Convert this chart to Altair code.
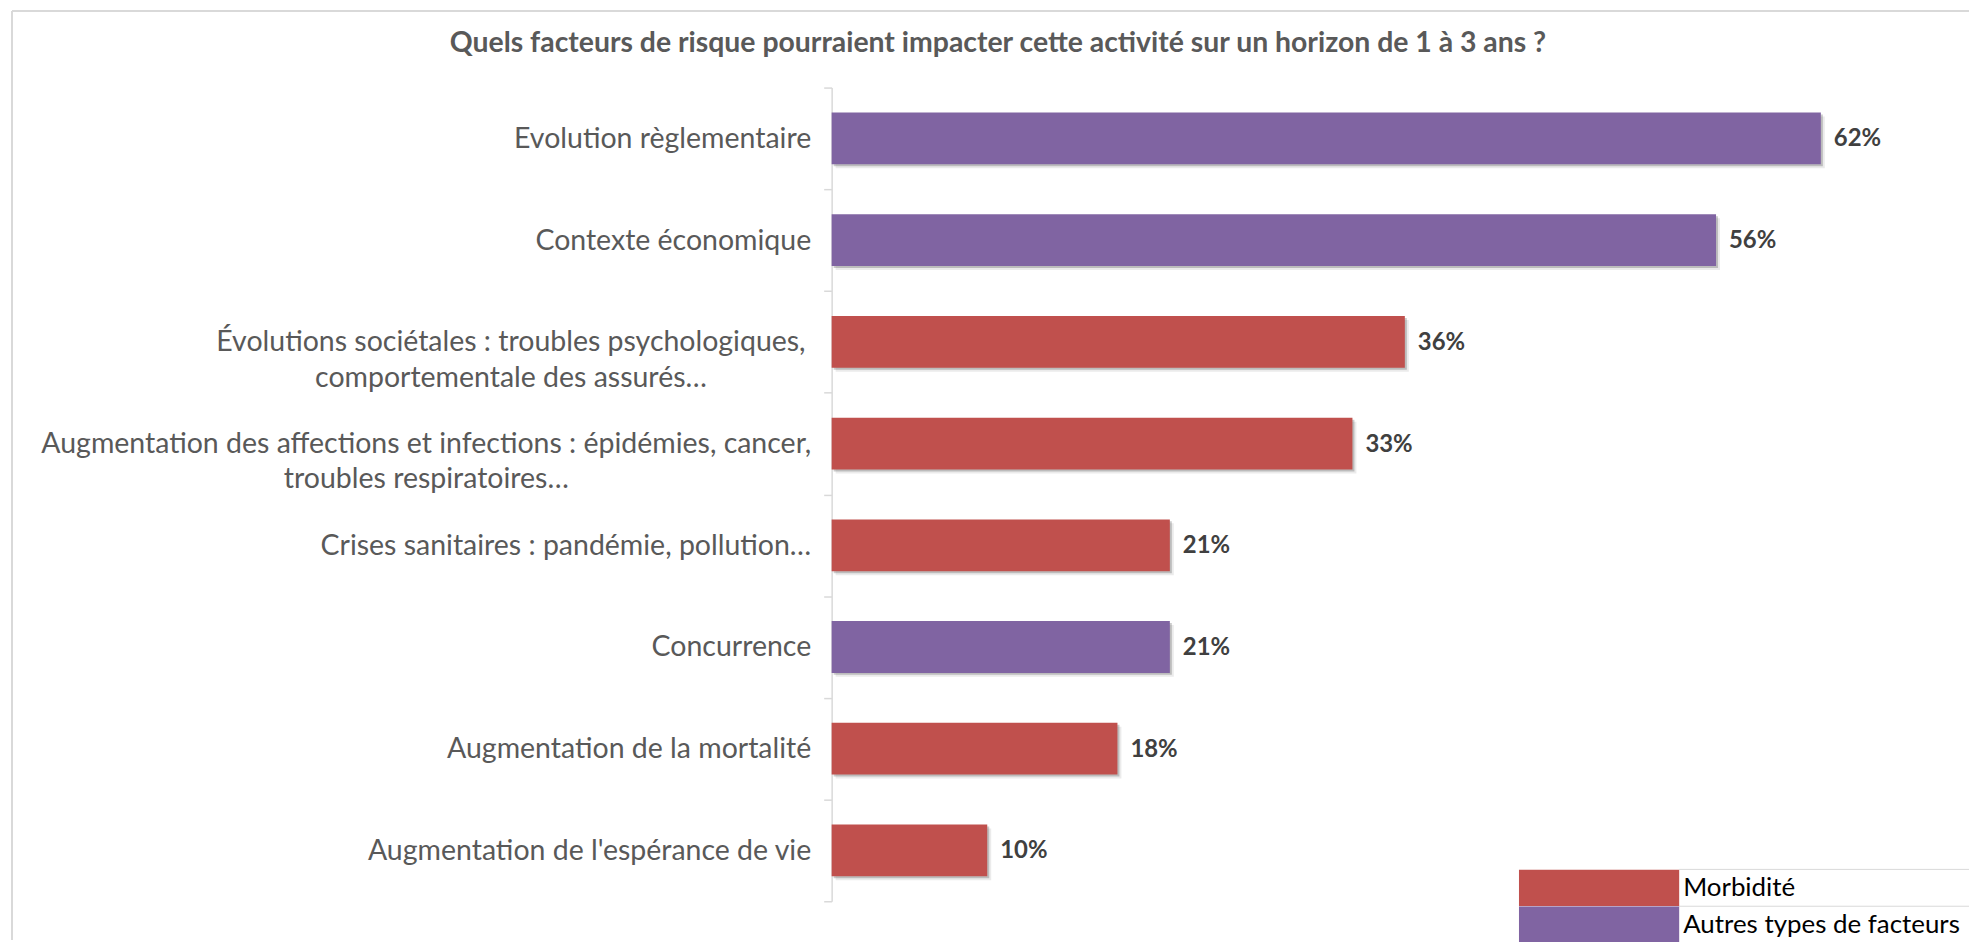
import altair as alt
import pandas as pd

categories = [
    "Evolution règlementaire",
    "Contexte économique",
    "Évolutions sociétales :  troubles psychologiques,\ncomportementale des assurés…",
    "Augmentation des affections et infections : épidémies, cancer,\ntroubles respiratoires…",
    "Crises sanitaires : pandémie, pollution…",
    "Concurrence",
    "Augmentation de la mortalité",
    "Augmentation de l'espérance de vie",
]
values = [62.3, 55.7, 36.1, 32.8, 21.3, 21.3, 18.0, 9.8]
groups = [
    "Autres types de facteurs",
    "Autres types de facteurs",
    "Morbidité",
    "Morbidité",
    "Morbidité",
    "Autres types de facteurs",
    "Morbidité",
    "Morbidité",
]
value_labels = ["62%", "56%", "36%", "33%", "21%", "21%", "18%", "10%"]
group_order = ["Morbidité", "Autres types de facteurs"]
group_colors = ["#C0504D", "#8064A2"]
title_text = "Quels facteurs de risque pourraient impacter cette activité sur un horizon de 1 à 3 ans ?"

df = pd.DataFrame({"cat": categories, "val": values, "grp": groups, "lbl": value_labels})

FONT = "Lato"
LABEL_SIZE = 28.6
LABEL_COLOR = "#595959"

x = alt.X("val:Q", scale=alt.Scale(domain=[0, 70], nice=False, zero=True), axis=None)
y = alt.Y(
    "cat:N",
    sort=None,
    title=None,
    scale=alt.Scale(paddingInner=0, paddingOuter=0),
    axis=alt.Axis(
        # single-line labels are drawn by the axis; the two wrapped (centred) ones by text layers
        labelExpr="indexof(datum.label, '\\n') >= 0 ? '' : datum.label",
        tickBand="extent",
        domainColor="#d9d9d9",
        domainWidth=1.5,
        tickColor="#d9d9d9",
        tickWidth=1.5,
        tickSize=8,
        labelFont=FONT,
        labelFontSize=LABEL_SIZE,
        labelColor=LABEL_COLOR,
        labelLimit=1000,
        labelOverlap=False,
        labelBound=False,
        labelBaseline="middle",
        labelAlign="right",
        labelPadding=13,
        grid=False,
    ),
)

base = alt.Chart(df)

shadow_far = base.mark_bar(
    size=52, color="#000000", opacity=0.08, xOffset=4, x2Offset=4, yOffset=4, y2Offset=4
).encode(x=x, y=y)
shadow_near = base.mark_bar(
    size=52, color="#000000", opacity=0.2, xOffset=2, x2Offset=2, yOffset=2, y2Offset=2
).encode(x=x, y=y)

bars = base.mark_bar(size=52).encode(
    x=x,
    y=y,
    color=alt.Color(
        "grp:N",
        scale=alt.Scale(domain=group_order, range=group_colors),
        legend=alt.Legend(
            title=None,
            orient="none",
            legendX=690,
            legendY=785,
            padding=0,
            rowPadding=0,
            offset=0,
            clipHeight=37,
            symbolType="M-1,-0.23H1V0.23H-1Z",
            symbolSize=25921,
            symbolStrokeWidth=0,
            symbolOpacity=1,
            labelFont=FONT,
            labelFontSize=26,
            labelColor="#000000",
            labelOffset=4,
            labelLimit=1000,
        ),
    ),
)

text = base.mark_text(
    align="left",
    baseline="middle",
    dx=13,
    dy=1,
    font=FONT,
    fontSize=24,
    fontWeight="bold",
    color="#404040",
).encode(x=x, y=y, text="lbl:N")

wrapped_style = dict(
    align="center",
    baseline="middle",
    font=FONT,
    fontSize=LABEL_SIZE,
    color=LABEL_COLOR,
    lineHeight=36,
)
label_soc = (
    base.transform_filter("indexof(datum.cat, 'psychologiques') >= 0")
    .transform_calculate(lines="split(datum.cat, '\\n')")
    .mark_text(**wrapped_style)
    .encode(x=alt.value(-322), y=y, text="lines:N")
)
label_aff = (
    base.transform_filter("indexof(datum.cat, 'respiratoires') >= 0")
    .transform_calculate(lines="split(datum.cat, '\\n')")
    .mark_text(**wrapped_style)
    .encode(x=alt.value(-407), y=y, text="lines:N")
)

one = alt.Data(values=[{"k": 1}])
border_top = alt.Chart(one).mark_rule(color="#d9d9d9", strokeWidth=2).encode(
    x=alt.value(-823), x2=alt.value(1142), y=alt.value(-77)
)
border_left = alt.Chart(one).mark_rule(color="#d9d9d9", strokeWidth=2).encode(
    x=alt.value(-823), y=alt.value(-77), y2=alt.value(856)
)
legend_line1 = alt.Chart(one).mark_rule(color="#d9d9d9", strokeWidth=1).encode(
    x=alt.value(851), x2=alt.value(1142), y=alt.value(785)
)
legend_line2 = alt.Chart(one).mark_rule(color="#d9d9d9", strokeWidth=1).encode(
    x=alt.value(851), x2=alt.value(1142), y=alt.value(822)
)

chart = (
    alt.layer(
        border_top, border_left, legend_line1, legend_line2,
        shadow_far, shadow_near, bars, text, label_soc, label_aff,
    )
    .properties(
        width=1116,
        height=817,
        autosize=alt.AutoSizeParams(type="none"),
        padding={"left": 827, "top": 78, "right": 26, "bottom": 39},
        background="white",
        title=alt.TitleParams(
            text=title_text,
            font=FONT,
            fontSize=28.5,
            fontWeight="bold",
            color="#595959",
            baseline="middle",
            anchor="middle",
            dx=-391,
            offset=-62,
        ),
    )
    .configure_view(stroke=None)
)

chart.save("out.html", embed_options={"renderer": "svg", "actions": False})
